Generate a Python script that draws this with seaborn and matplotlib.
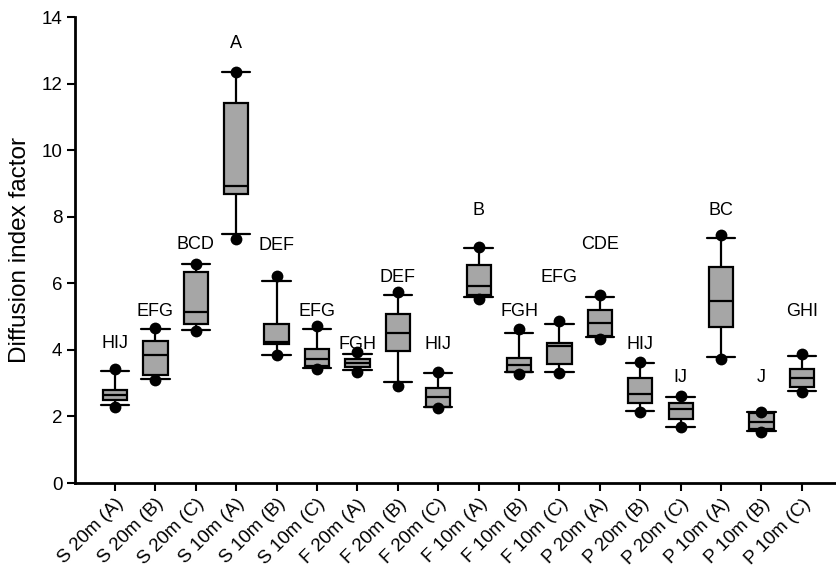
import matplotlib
matplotlib.use("Agg")
import matplotlib.pyplot as plt
import seaborn as sns
import pandas as pd

# Treatments along the x axis
groups = [
    'S 20m (A)', 'S 20m (B)', 'S 20m (C)', 'S 10m (A)', 'S 10m (B)', 'S 10m (C)',
    'F 20m (A)', 'F 20m (B)', 'F 20m (C)', 'F 10m (A)', 'F 10m (B)', 'F 10m (C)',
    'P 20m (A)', 'P 20m (B)', 'P 20m (C)', 'P 10m (A)', 'P 10m (B)', 'P 10m (C)',
]

# Box summary values
whisker_lo = [2.34, 3.12, 4.59, 7.47, 3.86, 3.44, 3.39, 3.02, 2.27,
              5.58, 3.32, 3.32, 4.39, 2.16, 1.69, 3.79, 1.56, 2.77]
q1 = [2.49, 3.24, 4.77, 8.68, 4.19, 3.52, 3.47, 3.96, 2.29,
      5.65, 3.34, 3.59, 4.41, 2.41, 1.92, 4.68, 1.61, 2.87]
median = [2.64, 3.86, 5.13, 8.93, 4.24, 3.74, 3.61, 4.52, 2.57,
          5.92, 3.56, 4.12, 4.81, 2.67, 2.22, 5.47, 1.84, 3.14]
q3 = [2.79, 4.26, 6.35, 11.42, 4.77, 4.04, 3.74, 5.08, 2.86,
      6.55, 3.77, 4.22, 5.20, 3.16, 2.41, 6.48, 2.09, 3.41]
whisker_hi = [3.36, 4.64, 6.57, 12.35, 6.07, 4.64, 3.87, 5.65, 3.29,
              7.05, 4.52, 4.79, 5.59, 3.61, 2.57, 7.37, 2.12, 3.81]

# Minimum / maximum observations (black dots)
point_min = [2.29, 3.09, 4.58, 7.33, 3.85, 3.41, 3.34, 2.92, 2.24,
             5.53, 3.27, 3.29, 4.34, 2.14, 1.67, 3.72, 1.54, 2.72]
point_max = [3.42, 4.66, 6.57, 12.35, 6.23, 4.72, 3.94, 5.73, 3.34,
             7.08, 4.62, 4.87, 5.65, 3.64, 2.61, 7.45, 2.14, 3.87]

# Significance letters and their heights
letters = ['HIJ', 'EFG', 'BCD', 'A', 'DEF', 'EFG', 'FGH', 'DEF', 'HIJ',
           'B', 'FGH', 'EFG', 'CDE', 'HIJ', 'IJ', 'BC', 'J', 'GHI']
letter_y = [4.20, 5.14, 7.18, 13.20, 7.15, 5.14, 4.16, 6.18, 4.16,
            8.20, 5.16, 6.18, 7.17, 4.16, 3.16, 8.20, 3.16, 5.16]

# long-form table: 5 values per group reproduce the box exactly
rows = []
for i, g in enumerate(groups):
    for v in (whisker_lo[i], q1[i], median[i], q3[i], whisker_hi[i]):
        rows.append({'Group': g, 'Value': v})
box_df = pd.DataFrame(rows)

pts_df = pd.DataFrame({
    'Group': groups + groups,
    'Value': point_min + point_max,
})

sns.set_style('ticks')
plt.rcParams['font.family'] = ['Liberation Sans', 'DejaVu Sans']
plt.rcParams.update({
    'text.color': 'black', 'axes.labelcolor': 'black', 'axes.edgecolor': 'black',
    'xtick.color': 'black', 'ytick.color': 'black',
})

fig = plt.figure(figsize=(8.37, 5.68), dpi=100)
ax = fig.add_axes([75 / 837, 85 / 568, 762 / 837, 466 / 568])

sns.boxplot(data=box_df, x='Group', y='Value', order=groups, whis=(0, 100),
            color='#a6a6a6', linecolor='black', linewidth=1.6, width=0.6,
            capwidths=0.7, showfliers=False, ax=ax)
sns.stripplot(data=pts_df, x='Group', y='Value', order=groups, jitter=False,
              color='black', size=8.5, zorder=5, ax=ax)

for i, lab in enumerate(letters):
    ax.text(i, letter_y[i], lab, ha='center', va='center', fontsize=13)

ax.set_xlim(-0.99, 17.87)
ax.set_ylim(0, 14)
ax.set_yticks(range(0, 15, 2))
ax.set_xlabel('')
ax.set_ylabel('Diffusion index factor', fontsize=17.5, labelpad=8)
ax.tick_params(axis='both', direction='out', length=6, width=1.5, labelsize=13.5, pad=3)
ax.set_xticks(range(len(groups)))
ax.set_xticklabels(groups, rotation=45, ha='right', rotation_mode='anchor')

sns.despine(ax=ax)
for side in ('left', 'bottom'):
    ax.spines[side].set_linewidth(2)

fig.savefig('out.png', dpi=100)
